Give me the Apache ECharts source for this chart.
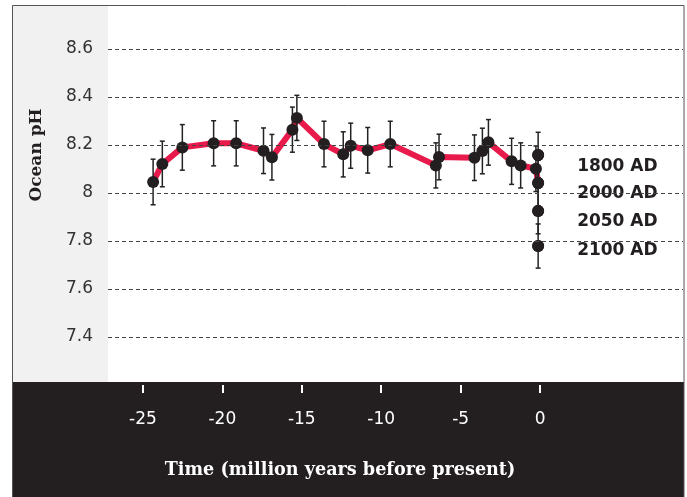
<!DOCTYPE html>
<html>
<head>
<meta charset="utf-8">
<script src="https://cdn.jsdelivr.net/npm/echarts@6/dist/echarts.min.js"></script>
<style>html,body{margin:0;padding:0;background:#fff;}#c{width:687px;height:497px;}</style>
</head>
<body>
<div id="c"></div>
<script>
// ---- data ----
const paleoAge = [-24.36, -23.78, -22.52, -20.55, -19.13, -17.41, -16.88, -15.59, -15.31, -13.60, -12.39, -11.92, -10.85, -9.43, -6.56, -6.36, -4.13, -3.63, -3.25, -1.79, -1.22, -0.26];
const paleoPH  = [8.046, 8.121, 8.190, 8.207, 8.207, 8.176, 8.149, 8.264, 8.313, 8.204, 8.161, 8.197, 8.178, 8.204, 8.115, 8.150, 8.147, 8.175, 8.211, 8.132, 8.115, 8.101];
const paleoErr = [0.095, 0.095, 0.095, 0.094, 0.094, 0.095, 0.095, 0.094, 0.094, 0.095, 0.094, 0.094, 0.095, 0.095, 0.094, 0.095, 0.095, 0.095, 0.095, 0.096, 0.094, 0.095];
const modernLabels = ['1800 AD', '2000 AD', '2050 AD', '2100 AD'];
const modernAge = [-0.12, -0.12, -0.12, -0.12];
const modernPH  = [8.158, 8.042, 7.925, 7.779];
const modernErr = [0.095, 0.095, 0.095, 0.092];
const xTickValues = [-25, -20, -15, -10, -5, 0];
const xTitle = 'Time (million years before present)';
const yTitle = 'Ocean pH';

// ---- layout / style constants ----
const labelOffsets = [[0, 11], [0, 11], [0, 11], [0, 5]];
const DARK = '#231f20';
const RED = '#e8194b';

const lineData = paleoAge.map((a, i) => [a, paleoPH[i]]);
lineData.push([modernAge[1], modernPH[1]]);

const allPts = paleoAge.map((a, i) => [a, paleoPH[i], paleoErr[i]])
  .concat(modernAge.map((a, i) => [a, modernPH[i], modernErr[i]]));

const chart = echarts.init(document.getElementById('c'), null, {renderer: 'canvas'});
chart.setOption({
  animation: false,
  backgroundColor: '#fff',
  grid: {left: 108, right: 4, top: 1, bottom: 112, containLabel: false},
  xAxis: {
    type: 'value', min: -27.2, max: 9, z: 10,
    axisLine: {show: false},
    splitLine: {show: false},
    axisTick: {show: true, customValues: xTickValues, length: 8, lineStyle: {color: '#fff', width: 2}},
    axisLabel: {customValues: xTickValues, color: '#fff', fontSize: 17, fontFamily: 'DejaVu Sans', margin: 26}
  },
  yAxis: {
    type: 'value', min: 7.2, max: 8.8, interval: 0.2, z: 10,
    axisLine: {show: false},
    axisTick: {show: false},
    axisLabel: {
      color: '#333', fontSize: 17, fontFamily: 'DejaVu Sans', margin: 15,
      formatter: v => (Math.abs(v - 7.2) < 1e-6 || Math.abs(v - 8.8) < 1e-6) ? '' : String(+v.toFixed(1))
    },
    splitLine: {show: true, showMinLine: false, showMaxLine: false, lineStyle: {color: '#444', type: [4, 3], width: 1}}
  },
  graphic: [
    {type: 'rect', z: 0, shape: {x: 12, y: 5, width: 96, height: 377}, style: {fill: '#f1f1f1'}},
    {type: 'rect', z: 1, shape: {x: 12, y: 382, width: 672, height: 115}, style: {fill: DARK}},
    {type: 'rect', z: 1, shape: {x: 12.5, y: 5.5, width: 671.5, height: 500}, style: {fill: 'none', stroke: '#555', lineWidth: 1}},
    {type: 'text', z: 100, x: 37, y: 155, rotation: Math.PI / 2,
      style: {text: yTitle, fill: DARK, font: 'bold 17px "DejaVu Serif"', textAlign: 'center', textVerticalAlign: 'middle'}},
    {type: 'text', z: 100, x: 340, y: 470,
      style: {text: xTitle, fill: '#fff', font: 'bold 17.6px "DejaVu Serif"', textAlign: 'center', textVerticalAlign: 'middle'}}
  ],
  series: [
    {
      type: 'line', data: lineData, symbol: 'none', z: 2,
      lineStyle: {color: RED, width: 6}
    },
    {
      type: 'custom', z: 3,
      data: allPts,
      renderItem: function (params, api) {
        const x = api.value(0), y = api.value(1), e = api.value(2);
        const top = api.coord([x, y + e]);
        const bot = api.coord([x, y - e]);
        const w = 2.5;
        const st = {stroke: '#222', lineWidth: 1.5};
        return {type: 'group', children: [
          {type: 'line', shape: {x1: top[0], y1: top[1], x2: bot[0], y2: bot[1]}, style: st},
          {type: 'line', shape: {x1: top[0] - w, y1: top[1], x2: top[0] + w, y2: top[1]}, style: st},
          {type: 'line', shape: {x1: bot[0] - w, y1: bot[1], x2: bot[0] + w, y2: bot[1]}, style: st}
        ]};
      }
    },
    {
      type: 'scatter', z: 4, symbol: 'circle', symbolSize: 12,
      itemStyle: {color: DARK, opacity: 1},
      data: allPts.map(p => [p[0], p[1]])
    },
    {
      type: 'scatter', z: 5, symbol: 'circle', symbolSize: 12,
      itemStyle: {color: DARK, opacity: 1},
      data: modernAge.map((a, i) => ({
        value: [a, modernPH[i]],
        label: {show: true, position: 'right', distance: 33, offset: labelOffsets[i],
          formatter: modernLabels[i], color: DARK, opacity: 1, fontSize: 17, fontWeight: 'bold', fontFamily: 'DejaVu Sans'}
      }))
    }
  ]
});
</script>
</body>
</html>
